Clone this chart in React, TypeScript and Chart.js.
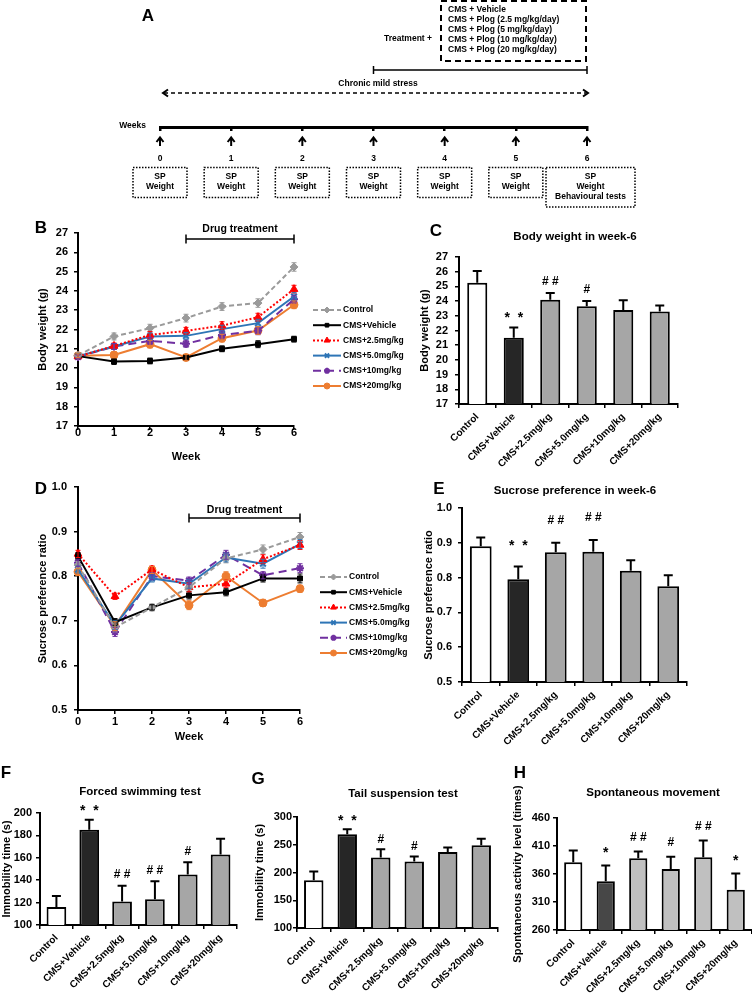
import React, { useEffect, useRef } from 'react';
import { Chart, registerables } from 'chart.js';
import { drawPoint } from 'chart.js/helpers';

Chart.register(...registerables);

const FF = '"Liberation Sans", Arial, Helvetica, sans-serif';
Chart.defaults.font.family = FF;
(Chart.defaults.font as any).weight = 'bold';
Chart.defaults.color = '#000';

// ---------------- data ----------------
const weekLabels = ['0', '1', '2', '3', '4', '5', '6'];
const groupLabels = ['Control', 'CMS+Vehicle', 'CMS+2.5mg/kg', 'CMS+5.0mg/kg', 'CMS+10mg/kg', 'CMS+20mg/kg'];
const treatmentGroups = [
  'CMS + Vehicle',
  'CMS + Plog (2.5 mg/kg/day)',
  'CMS + Plog (5 mg/kg/day)',
  'CMS + Plog (10 mg/kg/day)',
  'CMS + Plog (20 mg/kg/day)',
];
const weeklyBoxText = [['SP', 'Weight'], ['SP', 'Weight'], ['SP', 'Weight'], ['SP', 'Weight'], ['SP', 'Weight'], ['SP', 'Weight'], ['SP', 'Weight', 'Behavioural tests']];

// B: body weight (g) by week
const bwControl = [20.65, 21.64, 22.07, 22.59, 23.19, 23.37, 25.24];
const bwVehicle = [20.62, 20.34, 20.37, 20.55, 21.0, 21.24, 21.5];
const bw25 = [20.6, 21.15, 21.72, 21.93, 22.2, 22.64, 24.09];
const bw50 = [20.62, 21.12, 21.64, 21.67, 22.02, 22.33, 23.71];
const bw10 = [20.58, 21.12, 21.41, 21.26, 21.72, 21.93, 23.57];
const bw20 = [20.64, 20.68, 21.24, 20.55, 21.55, 21.95, 23.28];
const bwControlErr = [0.1, 0.18, 0.2, 0.2, 0.2, 0.22, 0.22];
const bwVehicleErr = [0.1, 0.15, 0.15, 0.12, 0.15, 0.18, 0.15];
const bw25Err = [0.1, 0.15, 0.18, 0.18, 0.2, 0.2, 0.2];
const bw50Err = [0.1, 0.15, 0.18, 0.18, 0.2, 0.2, 0.2];
const bw10Err = [0.1, 0.15, 0.18, 0.18, 0.2, 0.2, 0.2];
const bw20Err = [0.1, 0.15, 0.2, 0.15, 0.2, 0.2, 0.2];

// D: sucrose preference ratio by week
const spControl = [0.825, 0.685, 0.73, 0.775, 0.84, 0.86, 0.888];
const spVehicle = [0.845, 0.697, 0.73, 0.757, 0.764, 0.795, 0.795];
const sp25 = [0.85, 0.755, 0.815, 0.775, 0.783, 0.838, 0.87];
const sp50 = [0.815, 0.69, 0.795, 0.783, 0.842, 0.828, 0.872];
const sp10 = [0.83, 0.675, 0.8, 0.79, 0.848, 0.802, 0.818];
const sp20 = [0.81, 0.688, 0.814, 0.735, 0.8, 0.74, 0.772];
const spControlErr = [0.008, 0.01, 0.008, 0.008, 0.01, 0.01, 0.01];
const spVehicleErr = [0.008, 0.008, 0.006, 0.008, 0.008, 0.008, 0.01];
const sp25Err = [0.008, 0.007, 0.008, 0.01, 0.008, 0.01, 0.01];
const sp50Err = [0.008, 0.01, 0.008, 0.01, 0.01, 0.01, 0.01];
const sp10Err = [0.008, 0.01, 0.008, 0.008, 0.01, 0.008, 0.01];
const sp20Err = [0.008, 0.01, 0.008, 0.01, 0.01, 0.008, 0.008];

// C: body weight in week 6
const bwWeek6 = [25.25, 21.5, 24.1, 23.65, 23.4, 23.3];
const bwWeek6Err = [0.8, 0.7, 0.45, 0.35, 0.65, 0.4];
const bwWeek6Sig = ['', '*  *', '# #', '#', '', ''];

// E: sucrose preference in week 6
const spWeek6 = [0.89, 0.795, 0.873, 0.874, 0.82, 0.775];
const spWeek6Err = [0.025, 0.037, 0.027, 0.034, 0.03, 0.032];
const spWeek6Sig = ['', '*  *', '# #', '# #', '', ''];

// F: forced swimming test (s)
const fstTime = [116, 185, 121, 123, 145, 163];
const fstErr = [10, 9, 14, 16, 11, 14];
const fstSig = ['', '*  *', '# #', '# #', '#', ''];

// G: tail suspension test (s)
const tstTime = [186, 269, 227, 220, 237, 249];
const tstErr = [16, 9, 15, 9, 8, 12];
const tstSig = ['', '*  *', '#', '#', '', ''];

// H: spontaneous movement (times)
const spontLevel = [381, 347, 388, 369, 390, 332];
const spontErr = [21, 28, 12, 22, 30, 29];
const spontSig = ['', '*', '# #', '#', '# #', '*'];

// ---------------- styles ----------------
const seriesColors = ['#9a9a9a', '#000000', '#ff0000', '#2e75b6', '#7030a0', '#ed7d31'];
const seriesDash = [[5, 3], [], [2, 2], [], [8, 5], []];
const seriesPoint = ['rectRot', 'rect', 'triangle', 'crossRot', 'star', 'circle'];
const seriesRadius = [4, 3.5, 4.5, 4, 4, 4];
const barColors = ['#ffffff', '#262626', '#a6a6a6', '#a6a6a6', '#a6a6a6', '#a6a6a6'];
const barColorsH = ['#ffffff', '#474747', '#c0c0c0', '#c0c0c0', '#c0c0c0', '#c0c0c0'];

// ---------------- plugin ----------------
interface Txt { t: string; x: number; y: number; size: number; align?: CanvasTextAlign }
interface ExtraCfg {
  origin: [number, number];
  texts?: Txt[];
  errs?: number[][];
  errMode?: 'up' | 'both';
  cap?: number;
  errLW?: number;
  errColors?: string[];
  annots?: string[];
  annotGap?: number;
  annotSize?: number;
  bracket?: { from: number; to: number; y: number; label: string; labelY: number; size: number };
  legend?: { x1: number; x2: number; y: number; dy: number; size: number };
  custom?: (chart: any, ctx: CanvasRenderingContext2D) => void;
}

function makeExtras(cfg: ExtraCfg) {
  const [ox, oy] = cfg.origin;
  return {
    id: 'extras',
    afterDatasetsDraw(chart: any) {
      const ctx: CanvasRenderingContext2D = chart.ctx;
      const ys = chart.scales.y;
      if (cfg.errs) {
        chart.data.datasets.forEach((ds: any, di: number) => {
          const e = cfg.errs![di];
          if (!e) return;
          const meta = chart.getDatasetMeta(di);
          ctx.save();
          ctx.strokeStyle = cfg.errColors ? cfg.errColors[di] : '#000';
          ctx.lineWidth = cfg.errLW ?? 1.5;
          ctx.setLineDash([]);
          const c = cfg.cap ?? 4;
          meta.data.forEach((el: any, i: number) => {
            const v = ds.data[i];
            const x = el.x;
            const yt = ys.getPixelForValue(v + e[i]);
            const yb = cfg.errMode === 'both' ? ys.getPixelForValue(v - e[i]) : ys.getPixelForValue(v);
            ctx.beginPath();
            ctx.moveTo(x, yb);
            ctx.lineTo(x, yt);
            ctx.moveTo(x - c, yt);
            ctx.lineTo(x + c, yt);
            if (cfg.errMode === 'both') {
              ctx.moveTo(x - c, yb);
              ctx.lineTo(x + c, yb);
            }
            ctx.stroke();
          });
          ctx.restore();
        });
      }
      if (cfg.annots) {
        const ds = chart.data.datasets[0];
        const meta = chart.getDatasetMeta(0);
        const e = cfg.errs ? cfg.errs[0] : null;
        ctx.save();
        ctx.fillStyle = '#000';
        ctx.textAlign = 'center';
        ctx.textBaseline = 'middle';
        cfg.annots.forEach((a, i) => {
          if (!a) return;
          const star = a.indexOf('*') >= 0;
          ctx.font = `bold ${star ? (cfg.annotSize ?? 12) + 2 : cfg.annotSize ?? 12}px ${FF}`;
          const top = ys.getPixelForValue(ds.data[i] + (e ? e[i] : 0));
          ctx.fillText(a, meta.data[i].x, top - (cfg.annotGap ?? 12) + (star ? 2 : 0));
        });
        ctx.restore();
      }
    },
    afterDraw(chart: any) {
      const ctx: CanvasRenderingContext2D = chart.ctx;
      ctx.save();
      ctx.fillStyle = '#000';
      ctx.textBaseline = 'middle';
      (cfg.texts || []).forEach((t) => {
        ctx.font = `bold ${t.size}px ${FF}`;
        ctx.textAlign = t.align || 'center';
        ctx.fillText(t.t, t.x - ox, t.y - oy);
      });
      if (cfg.bracket) {
        const b = cfg.bracket;
        const xs = chart.scales.x;
        const x1 = xs.getPixelForValue(b.from);
        const x2 = xs.getPixelForValue(b.to);
        const y = b.y - oy;
        ctx.strokeStyle = '#000';
        ctx.lineWidth = 1.5;
        ctx.beginPath();
        ctx.moveTo(x1, y); ctx.lineTo(x2, y);
        ctx.moveTo(x1, y - 4.5); ctx.lineTo(x1, y + 4.5);
        ctx.moveTo(x2, y - 4.5); ctx.lineTo(x2, y + 4.5);
        ctx.stroke();
        ctx.font = `bold ${b.size}px ${FF}`;
        ctx.textAlign = 'center';
        ctx.fillText(b.label, (x1 + x2) / 2, b.labelY - oy);
      }
      if (cfg.legend) {
        const L = cfg.legend;
        chart.data.datasets.forEach((d: any, i: number) => {
          const y = L.y + i * L.dy - oy;
          ctx.save();
          ctx.strokeStyle = d.borderColor;
          ctx.lineWidth = d.borderWidth;
          ctx.setLineDash(d.borderDash || []);
          ctx.beginPath();
          ctx.moveTo(L.x1 - ox, y);
          ctx.lineTo(L.x2 - ox, y);
          ctx.stroke();
          ctx.setLineDash([]);
          ctx.fillStyle = d.pointBackgroundColor;
          ctx.strokeStyle = d.pointBorderColor;
          ctx.lineWidth = d.pointBorderWidth;
          drawPoint(ctx, { pointStyle: d.pointStyle, radius: d.pointRadius * 0.75, borderWidth: d.pointBorderWidth, rotation: 0 } as any, (L.x1 + L.x2) / 2 - ox, y);
          ctx.fillStyle = '#000';
          ctx.font = `bold ${L.size}px ${FF}`;
          ctx.textAlign = 'left';
          ctx.textBaseline = 'middle';
          ctx.fillText(d.label, L.x2 + 2 - ox, y);
          ctx.restore();
        });
      }
      if (cfg.custom) cfg.custom(chart, ctx);
      ctx.restore();
    },
  };
}

// ---------------- config builders ----------------
type Box = [number, number, number, number];
type Area = [number, number, number, number];

function frame(box: Box, area: Area) {
  const [L, T, W, H] = box;
  const [al, at, ar, ab] = area;
  return { yw: al - L, padTop: at - T, padRight: L + W - ar, xh: T + H - ab };
}

function yAxis(o: { min: number; max: number; step: number; yw: number; title: string; titleCx: number; tickPad: number; dec?: number; titleSize?: number }) {
  const tsz = o.titleSize ?? 11;
  const ticks: any = { stepSize: o.step, autoSkip: false, font: { size: 11, weight: 'bold', family: FF }, color: '#000', padding: o.tickPad };
  if (o.dec !== undefined) {
    const d = o.dec;
    ticks.callback = (v: any) => Number(v).toFixed(d);
  }
  return {
    type: 'linear',
    min: o.min,
    max: o.max,
    ticks,
    grid: { display: true, drawOnChartArea: false, drawTicks: true, tickLength: 4, color: '#000', lineWidth: 1.5 },
    border: { display: true, color: '#000', width: 2 },
    title: {
      display: true,
      text: o.title,
      color: '#000',
      font: { size: tsz, weight: 'bold', family: FF, lineHeight: 1.2 },
      padding: { top: Math.max(0, o.titleCx - (tsz * 1.2) / 2), bottom: 0 },
    },
    afterFit: (s: any) => { s.width = o.yw; },
  };
}

interface BarPanel {
  box: Box; area: Area; values: number[]; errs: number[]; sig: string[]; colors: string[];
  min: number; max: number; step: number; dec?: number; yTitle: string; yTitleCx: number; yTickPad: number;
  xTickPad: number; annotGap: number; barPct: number; texts: Txt[];
}

function barConfig(p: BarPanel) {
  const f = frame(p.box, p.area);
  return {
    type: 'bar',
    data: {
      labels: groupLabels,
      datasets: [{
        label: 'value', data: p.values, backgroundColor: p.colors, borderColor: '#000', borderWidth: 2,
        barPercentage: p.barPct, categoryPercentage: 1, borderSkipped: false,
      }],
    },
    options: {
      responsive: false, animation: false, events: [],
      layout: { padding: { left: 0, top: f.padTop, right: f.padRight, bottom: 0 } },
      plugins: { legend: { display: false }, tooltip: { enabled: false } },
      scales: {
        x: {
          type: 'category', offset: true,
          ticks: { font: { size: 10, weight: 'bold', family: FF }, color: '#000', maxRotation: 45, minRotation: 45, autoSkip: false, padding: p.xTickPad },
          grid: { display: true, drawOnChartArea: false, drawTicks: true, tickLength: 4, color: '#000', lineWidth: 1.5, offset: true },
          border: { display: true, color: '#000', width: 2 },
          afterFit: (s: any) => { s.height = f.xh; },
        },
        y: yAxis({ min: p.min, max: p.max, step: p.step, yw: f.yw, title: p.yTitle, titleCx: p.yTitleCx, tickPad: p.yTickPad, dec: p.dec }),
      },
    },
    plugins: [makeExtras({
      origin: [p.box[0], p.box[1]], texts: p.texts, errs: [p.errs], errMode: 'up', cap: 4.5, errLW: 2,
      annots: p.sig, annotGap: p.annotGap, annotSize: 12,
    })],
  };
}

interface LinePanel {
  box: Box; area: Area; series: number[][]; errs: number[][];
  min: number; max: number; step: number; dec?: number; yTitle: string; yTitleCx: number; yTickPad: number;
  xTickPad: number; xTitleCy: number; texts: Txt[];
  bracketY: number; bracketLabelY: number; legend: { x1: number; x2: number; y: number; dy: number; size: number };
}

function lineConfig(p: LinePanel) {
  const f = frame(p.box, p.area);
  const bottom = p.box[1] + p.box[3];
  return {
    type: 'line',
    data: {
      labels: weekLabels,
      datasets: p.series.map((s, i) => ({
        label: groupLabels[i], data: s, borderColor: seriesColors[i], backgroundColor: seriesColors[i],
        borderDash: seriesDash[i], borderWidth: 2, pointStyle: seriesPoint[i], pointRadius: seriesRadius[i],
        pointBackgroundColor: seriesColors[i], pointBorderColor: seriesColors[i], pointBorderWidth: seriesPoint[i] === 'crossRot' || seriesPoint[i] === 'star' ? 2 : 1,
        tension: 0, fill: false,
      })),
    },
    options: {
      responsive: false, animation: false, events: [],
      layout: { padding: { left: 0, top: f.padTop, right: f.padRight, bottom: 0 } },
      plugins: { legend: { display: false }, tooltip: { enabled: false } },
      scales: {
        x: {
          type: 'category', offset: false,
          ticks: { font: { size: 11, weight: 'bold', family: FF, lineHeight: 1 }, color: '#000', maxRotation: 0, autoSkip: false, padding: p.xTickPad },
          grid: { display: true, drawOnChartArea: false, drawTicks: true, tickLength: 4, color: '#000', lineWidth: 1.5 },
          border: { display: true, color: '#000', width: 2 },
          title: {
            display: true, text: 'Week', color: '#000',
            font: { size: 11, weight: 'bold', family: FF, lineHeight: 1.2 },
            padding: { top: 0, bottom: Math.max(0, bottom - p.xTitleCy - 6.6) },
          },
          afterFit: (s: any) => { s.height = f.xh; },
        },
        y: yAxis({ min: p.min, max: p.max, step: p.step, yw: f.yw, title: p.yTitle, titleCx: p.yTitleCx, tickPad: p.yTickPad, dec: p.dec }),
      },
    },
    plugins: [makeExtras({
      origin: [p.box[0], p.box[1]], texts: p.texts, errs: p.errs, errMode: 'both', cap: 2.5, errLW: 1,
      errColors: seriesColors,
      bracket: { from: 3, to: 6, y: p.bracketY, label: 'Drug treatment', labelY: p.bracketLabelY, size: 10.5 },
      legend: p.legend,
    })],
  };
}

// Panel A: experimental timeline drawn on a category axis of weeks
function timelineConfig() {
  const box: Box = [0, 0, 752, 212];
  const axisY = 127;
  return {
    type: 'line',
    data: { labels: weekLabels, datasets: [] },
    options: {
      responsive: false, animation: false, events: [],
      layout: { padding: { left: 160, top: 0, right: 752 - 587, bottom: 0 } },
      plugins: { legend: { display: false }, tooltip: { enabled: false } },
      scales: {
        x: {
          type: 'category', offset: false,
          ticks: { font: { size: 8.5, weight: 'bold', family: FF, lineHeight: 1.2 }, color: '#000', maxRotation: 0, autoSkip: false, padding: 23 },
          grid: { display: true, drawOnChartArea: false, drawTicks: true, tickLength: 4, color: '#000', lineWidth: 2.5 },
          border: { display: true, color: '#000', width: 3 },
          afterFit: (s: any) => { s.height = box[3] - axisY; },
        },
        y: { display: false },
      },
    },
    plugins: [makeExtras({
      origin: [0, 0],
      texts: [
        { t: 'A', x: 148, y: 16, size: 17 },
        { t: 'Treatment +', x: 432, y: 39, size: 8.5, align: 'right' },
        { t: 'Chronic mild stress', x: 378, y: 84, size: 8.5 },
        { t: 'Weeks', x: 146, y: 126, size: 8.5, align: 'right' },
        ...treatmentGroups.map((g, i) => ({ t: g, x: 448, y: 9.5 + i * 10.1, size: 8.5, align: 'left' as CanvasTextAlign })),
      ],
      custom: (chart: any, ctx: CanvasRenderingContext2D) => {
        const xs = chart.scales.x;
        const px = (w: number) => xs.getPixelForValue(w);
        ctx.strokeStyle = '#000';
        // treatment groups box
        ctx.lineWidth = 2;
        ctx.setLineDash([6, 4]);
        ctx.strokeRect(441, 1, px(6) - 442, 60);
        // treatment bracket (weeks 3-6)
        ctx.setLineDash([]);
        ctx.lineWidth = 1.5;
        ctx.beginPath();
        ctx.moveTo(px(3), 70); ctx.lineTo(px(6), 70);
        ctx.moveTo(px(3), 66); ctx.lineTo(px(3), 74);
        ctx.moveTo(px(6), 66); ctx.lineTo(px(6), 74);
        ctx.stroke();
        // chronic mild stress double arrow (weeks 0-6)
        ctx.setLineDash([4, 3]);
        ctx.lineWidth = 1.5;
        ctx.beginPath();
        ctx.moveTo(px(0) + 4, 93); ctx.lineTo(px(6) - 1, 93);
        ctx.stroke();
        ctx.setLineDash([]);
        ctx.lineWidth = 2;
        ctx.beginPath();
        ctx.moveTo(px(0) + 8, 89.5); ctx.lineTo(px(0) + 3, 93); ctx.lineTo(px(0) + 8, 96.5);
        ctx.moveTo(px(6) - 4, 89.5); ctx.lineTo(px(6) + 1, 93); ctx.lineTo(px(6) - 4, 96.5);
        ctx.stroke();
        // arrows and boxes for each week
        weekLabels.forEach((_, i) => {
          const x = px(i);
          ctx.setLineDash([]);
          ctx.lineWidth = 2;
          ctx.beginPath();
          ctx.moveTo(x, 146); ctx.lineTo(x, 137.5);
          ctx.moveTo(x - 3.5, 142); ctx.lineTo(x, 137.5); ctx.lineTo(x + 3.5, 142);
          ctx.stroke();
          const lines = weeklyBoxText[i];
          const last = lines.length > 2;
          const left = last ? x - 41 : x - 27;
          const right = last ? x + 48 : x + 27;
          const top = 167.5;
          const bottom = last ? 207 : 197.5;
          ctx.lineWidth = 1.5;
          ctx.setLineDash([1.5, 1.5]);
          ctx.strokeRect(left, top, right - left, bottom - top);
          ctx.setLineDash([]);
          ctx.fillStyle = '#000';
          ctx.font = `bold 8.5px ${FF}`;
          ctx.textAlign = 'center';
          ctx.textBaseline = 'middle';
          const cx = (left + right) / 2;
          lines.forEach((l, k) => ctx.fillText(l, cx, 176.5 + k * 10.3));
        });
      },
    })],
  };
}

function ChartBox({ box, make }: { box: Box; make: () => any }) {
  const ref = useRef<HTMLCanvasElement>(null);
  useEffect(() => {
    const c = new Chart(ref.current as HTMLCanvasElement, make());
    return () => c.destroy();
  }, []);
  const [l, t, w, h] = box;
  return <canvas ref={ref} width={w} height={h} style={{ position: 'absolute', left: l, top: t, width: w, height: h }} />;
}

const boxA: Box = [0, 0, 752, 212];
const boxB: Box = [0, 212, 415, 255];
const boxC: Box = [380, 212, 372, 263];
const boxD: Box = [0, 470, 415, 280];
const boxE: Box = [380, 475, 372, 280];
const boxF: Box = [0, 760, 250, 233];
const boxG: Box = [250, 760, 250, 233];
const boxH: Box = [490, 760, 262, 233];

export default function App() {
  return (
    <div style={{ position: 'absolute', left: 0, top: 0, width: 752, height: 993, background: '#fff', overflow: 'hidden' }}>
      <ChartBox box={boxA} make={timelineConfig} />
      <ChartBox box={boxB} make={() => lineConfig({
        box: boxB, area: [78, 233, 294, 426],
        series: [bwControl, bwVehicle, bw25, bw50, bw10, bw20],
        errs: [bwControlErr, bwVehicleErr, bw25Err, bw50Err, bw10Err, bw20Err],
        min: 17, max: 27, step: 1, yTitle: 'Body weight (g)', yTitleCx: 43, yTickPad: 6,
        xTickPad: -2.5, xTitleCy: 457,
        texts: [{ t: 'B', x: 41, y: 228, size: 17 }],
        bracketY: 239, bracketLabelY: 229,
        legend: { x1: 313, x2: 341, y: 310, dy: 15.2, size: 8.5 },
      })} />
      <ChartBox box={boxC} make={() => barConfig({
        box: boxC, area: [459, 257, 678, 404], values: bwWeek6, errs: bwWeek6Err, sig: bwWeek6Sig, colors: barColors,
        min: 17, max: 27, step: 1, yTitle: 'Body weight (g)', yTitleCx: 45, yTickPad: 7, xTickPad: 3, annotGap: 11, barPct: 0.55,
        texts: [{ t: 'C', x: 436, y: 231, size: 17 }, { t: 'Body weight in week-6', x: 575, y: 237, size: 11.5 }],
      })} />
      <ChartBox box={boxD} make={() => lineConfig({
        box: boxD, area: [78, 487, 300, 710],
        series: [spControl, spVehicle, sp25, sp50, sp10, sp20],
        errs: [spControlErr, spVehicleErr, sp25Err, sp50Err, sp10Err, sp20Err],
        min: 0.5, max: 1.0, step: 0.1, dec: 1, yTitle: 'Sucrose preference ratio', yTitleCx: 43, yTickPad: 7,
        xTickPad: 2.5, xTitleCy: 737,
        texts: [{ t: 'D', x: 41, y: 489, size: 17 }],
        bracketY: 518, bracketLabelY: 510,
        legend: { x1: 320, x2: 347, y: 577, dy: 15.2, size: 8.5 },
      })} />
      <ChartBox box={boxE} make={() => barConfig({
        box: boxE, area: [462, 508, 687, 682], values: spWeek6, errs: spWeek6Err, sig: spWeek6Sig, colors: barColors,
        min: 0.5, max: 1.0, step: 0.1, dec: 1, yTitle: 'Sucrose preference ratio', yTitleCx: 49, yTickPad: 6, xTickPad: 3, annotGap: 22, barPct: 0.58,
        texts: [{ t: 'E', x: 439, y: 489, size: 17 }, { t: 'Sucrose preference in week-6', x: 575, y: 491, size: 11.5 }],
      })} />
      <ChartBox box={boxF} make={() => barConfig({
        box: boxF, area: [40, 813, 237, 925], values: fstTime, errs: fstErr, sig: fstSig, colors: barColors,
        min: 100, max: 200, step: 20, yTitle: 'Immobility time (s)', yTitleCx: 7, yTickPad: 4, xTickPad: 3, annotGap: 11, barPct: 0.6,
        texts: [{ t: 'F', x: 6, y: 773, size: 17 }, { t: 'Forced swimming test', x: 140, y: 792, size: 11.5 }],
      })} />
      <ChartBox box={boxG} make={() => barConfig({
        box: boxG, area: [297, 817, 498, 928], values: tstTime, errs: tstErr, sig: tstSig, colors: barColors,
        min: 100, max: 300, step: 50, yTitle: 'Immobility time (s)', yTitleCx: 10, yTickPad: 1, xTickPad: 3, annotGap: 10, barPct: 0.58,
        texts: [{ t: 'G', x: 258, y: 779, size: 17 }, { t: 'Tail suspension test', x: 403, y: 794, size: 11.5 }],
      })} />
      <ChartBox box={boxH} make={() => barConfig({
        box: boxH, area: [557, 818, 752, 930], values: spontLevel, errs: spontErr, sig: spontSig, colors: barColorsH,
        min: 260, max: 460, step: 50, yTitle: 'Spontaneous activity level (times)', yTitleCx: 28, yTickPad: 3, xTickPad: 3, annotGap: 14, barPct: 0.56,
        texts: [{ t: 'H', x: 520, y: 773, size: 17 }, { t: 'Spontaneous movement', x: 653, y: 793, size: 11.5 }],
      })} />
    </div>
  );
}
